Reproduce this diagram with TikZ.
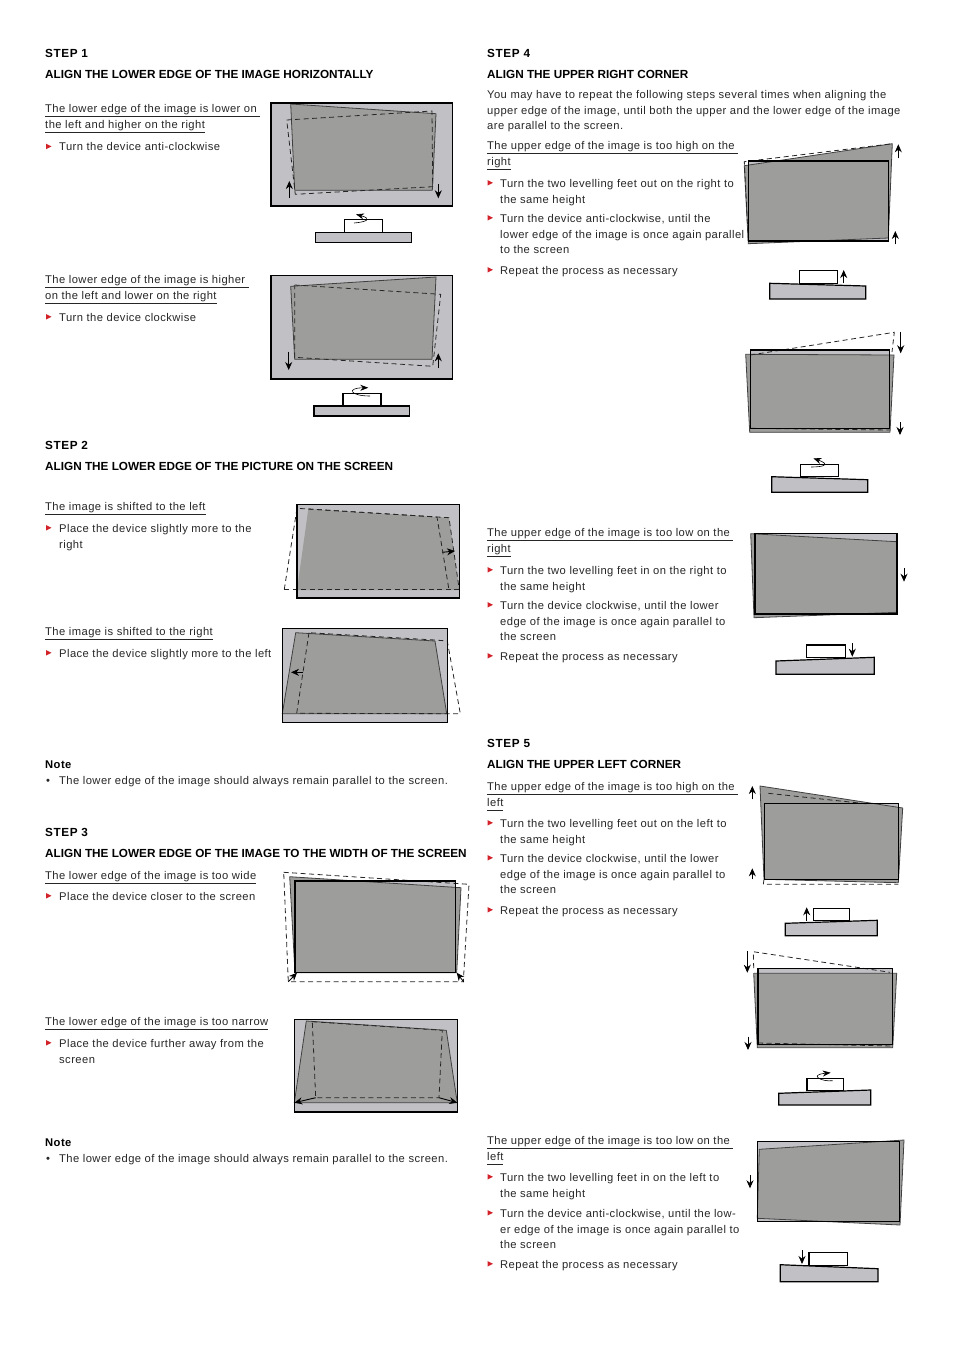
\documentclass[tikz,border=0pt]{standalone}
\usepackage{fontspec}
\setmainfont{Liberation Sans}
\usetikzlibrary{arrows.meta}
\definecolor{screengray}{HTML}{C1C1C5}
\definecolor{imagegray}{HTML}{9D9D9B}
\definecolor{tipred}{HTML}{D2232A}
\newcommand{\bodyfont}{\fontsize{11.2}{15.8}\addfontfeature{LetterSpace=3.9}\selectfont}
\newcommand{\headfont}{\fontsize{11.75}{15.8}\bfseries\selectfont}
\newcommand{\stepfont}{\fontsize{11.75}{15.8}\bfseries\addfontfeature{LetterSpace=5}\selectfont}
\newcommand{\ulnote}[1]{\underline{\smash{#1}\vphantom{g}}}
\newcommand{\tipmark}[2]{\fill[tipred] (#1,#2-7) -- (#1+5.5,#2-4.2) -- (#1,#2-1.5) -- cycle;}
\tikzset{
  bodytext/.style={anchor=north west,inner sep=0pt,align=left,font=\bodyfont,text=black!85,execute at begin node={\rule{0pt}{10pt}}},
  headtext/.style={anchor=base west,inner sep=0pt,font=\headfont},
  steptext/.style={anchor=base west,inner sep=0pt,font=\stepfont},
  screenbox/.style={fill=screengray,draw=none},
  screenedge/.style={draw=black,line width=1.4pt},
  imagequad/.style={fill=imagegray,draw=black!75,line width=0.8pt,line join=round},
  dashline/.style={draw=black!85,line width=0.8pt,dash pattern=on 5pt off 3.5pt},
  movearrow/.style={draw=black,line width=0.9pt,-{Stealth[length=8pt,width=7pt]}},
  turnarrow/.style={draw=black,line width=0.6pt,-{Stealth[length=8pt,width=6pt]}},
  basebox/.style={fill=screengray,draw=black,line width=1.2pt},
  devicebox/.style={fill=white,draw=black,line width=1.2pt}
}
\begin{document}
\begin{tikzpicture}[x=1pt,y=-1pt]
\useasboundingbox (0,0) rectangle (954,1350);

\node[steptext] (stepone) at (45,57) {STEP 1};
\node[headtext] (steponehead) at (45,78) {ALIGN THE LOWER EDGE OF THE IMAGE HORIZONTALLY};
\node[bodytext] (lowerleft) at (45,106) {\ulnote{The lower edge of the image is lower on~}\\\ulnote{the left and higher on the right}};
\tipmark{46}{150.7}
\node[bodytext] (lowerleftdo) at (59,140.7) {Turn the device anti-clockwise};
\node[bodytext] (lowerright) at (45,277) {\ulnote{The lower edge of the image is higher~}\\\ulnote{on the left and lower on the right}};
\tipmark{46}{321}
\node[bodytext] (lowerrightdo) at (59,311) {Turn the device clockwise};

\fill[screenbox] (271,103) rectangle (452.7,206);
\draw[imagequad] (290.7,104) -- (436,113.7) -- (432.3,190.3) -- (294.7,190.3) -- cycle;
\draw[dashline] (286.7,120) -- (432,111) -- (432.7,186.7) -- (295.3,194.3) -- cycle;
\draw[screenedge] (271,103) rectangle (452.7,206);
\draw[movearrow] (289.3,197.7) -- (289.3,181);
\draw[movearrow] (438.3,184.3) -- (438.3,198.3);
\draw[basebox] (315.7,232.3) rectangle (411.7,242.3);
\draw[devicebox] (344.7,219.7) rectangle (382.7,232.3);
\draw[turnarrow] (354,223) .. controls (366,222) and (373,219) .. (356,214.3);

\fill[screenbox] (271,275.7) rectangle (452.7,379);
\draw[imagequad] (290.7,286.3) -- (436,277) -- (432,359.3) -- (294.7,359.3) -- cycle;
\draw[dashline] (294.7,285) -- (440.7,294.3) -- (432.7,366.3) -- (294.7,357.3) -- cycle;
\draw[screenedge] (271,275.7) rectangle (452.7,379);
\draw[movearrow] (288.7,351.7) -- (288.7,370);
\draw[movearrow] (438.3,368.3) -- (438.3,353.3);
\draw[basebox] (314,406) rectangle (409.7,416);
\draw[devicebox] (343,393.3) rectangle (381,406);
\draw[turnarrow] (370,396) .. controls (350,396) and (346,388) .. (368.3,387.7);

\node[steptext] (steptwo) at (45,449) {STEP 2};
\node[headtext] (steptwohead) at (45,470) {ALIGN THE LOWER EDGE OF THE PICTURE ON THE SCREEN};
\node[bodytext] (shiftleft) at (45,500) {\ulnote{The image is shifted to the left}};
\tipmark{46}{532}
\node[bodytext] (shiftleftdo) at (59,524) {Place the device slightly more to the\\right};
\node[bodytext] (shiftright) at (45,625) {\ulnote{The image is shifted to the right}};
\tipmark{46}{657}
\node[bodytext] (shiftrightdo) at (59,647) {Place the device slightly more to the left};

\fill[screenbox] (297,504.3) rectangle (459.3,598);
\fill[imagegray] (308.3,509) -- (449,517.7) -- (459.3,590) -- (297,590) -- cycle;
\draw[dashline] (284.3,589.3) -- (297,508.3) -- (437,517) -- (449,590);
\draw[dashline] (284.3,589.3) -- (459.3,589.3);
\draw[dashline] (308.3,509) -- (449,517.7) -- (459.3,590);
\draw[screenedge] (297,504.3) rectangle (459.3,598);
\draw[movearrow] (442.3,552.3) -- (455,551);

\fill[screenbox] (282.3,628.7) rectangle (447.3,722.3);
\draw[imagequad] (295.7,632.7) -- (435,641) -- (446.7,713.7) -- (282.3,713.7) -- cycle;
\draw[dashline] (309,632.7) -- (296.7,713.3) -- (460.3,713.7) -- (447.3,641) -- (435,640) -- cycle;
\draw[screenedge] (282.3,628.7) rectangle (447.3,722.3);
\draw[movearrow] (303.3,672.3) -- (291,672.3);

\node[headtext] (noteone) at (45,768) {\bodyfont Note};
\node[bodytext] (noteonedot) at (46,774) {•};
\node[bodytext] (noteonetext) at (59,774) {The lower edge of the image should always remain parallel to the screen.};

\node[steptext] (stepthree) at (45,836) {STEP 3};
\node[headtext] (stepthreehead) at (45,857) {ALIGN THE LOWER EDGE OF THE IMAGE TO THE WIDTH OF THE SCREEN};
\node[bodytext] (toowide) at (45,869) {\ulnote{The lower edge of the image is too wide}};
\tipmark{46}{900}
\node[bodytext] (toowidedo) at (59,890) {Place the device closer to the screen};
\node[bodytext] (toonarrow) at (45,1015) {\ulnote{The lower edge of the image is too narrow}};
\tipmark{46}{1047}
\node[bodytext] (toonarrowdo) at (59,1039) {Place the device further away from the\\screen};

\fill[screenbox] (295,881) rectangle (455.7,972.7);
\draw[imagequad] (289.7,876.7) -- (461,887.7) -- (456.7,972.7) -- (295,972.7) -- cycle;
\draw[dashline] (283.7,872.3) -- (469,884.3) -- (463.3,981.7) -- (288.3,981.7) -- cycle;
\draw[screenedge] (295,881) rectangle (455.7,972.7);
\draw[movearrow] (288.3,981.7) -- (297,972.7);
\draw[movearrow] (463.8,982) -- (456.7,972.7);

\fill[screenbox] (294.3,1019.7) rectangle (457.3,1112);
\draw[imagequad] (306.3,1021) -- (446.3,1030.3) -- (457.3,1102.7) -- (294.3,1102.7) -- cycle;
\draw[dashline] (312.3,1021.7) -- (442.3,1030.3) -- (439,1097.7) -- (315.7,1097.7) -- cycle;
\draw[screenedge] (294.3,1019.7) rectangle (457.3,1112);
\draw[movearrow] (315.7,1097.7) -- (294.3,1102.7);
\draw[movearrow] (439,1097.7) -- (457.3,1102.7);

\node[headtext] (notetwo) at (45,1146) {\bodyfont Note};
\node[bodytext] (notetwodot) at (46,1152) {•};
\node[bodytext] (notetwotext) at (59,1152) {The lower edge of the image should always remain parallel to the screen.};

\node[steptext] (stepfour) at (487,57) {STEP 4};
\node[headtext] (stepfourhead) at (487,78) {ALIGN THE UPPER RIGHT CORNER};
\node[bodytext] (stepfourintro) at (487,90) {You may have to repeat the following steps several times when aligning the\\upper edge of the image, until both the upper and the lower edge of the image\\are parallel to the screen.};
\node[bodytext] (highright) at (487,143.7) {\ulnote{The upper edge of the image is too high on the~}\\\ulnote{right}};
\tipmark{487.5}{187}
\node[bodytext] (highrightone) at (500,179) {Turn the two levelling feet out on the right to\\the same height};
\tipmark{487.5}{222}
\node[bodytext] (highrighttwo) at (500,214) {Turn the device anti-clockwise, until the\\lower edge of the image is once again parallel\\to the screen};
\tipmark{487.5}{274}
\node[bodytext] (highrightthree) at (500,264) {Repeat the process as necessary};

\fill[screenbox] (748.3,161) rectangle (888.3,241);
\draw[imagequad] (744.3,165.7) -- (892.3,143.7) -- (888.3,238) -- (748.3,243.7) -- cycle;
\draw[dashline] (748.3,241) -- (744.3,161.7) -- (892.3,143.7);
\draw[screenedge] (748.3,161) rectangle (888.3,241);
\draw[movearrow] (898.3,158.3) -- (898.3,144.3);
\draw[movearrow] (895.3,244.3) -- (895.3,231);
\draw[basebox] (769.7,283.3) -- (865.7,286) -- (865.7,299) -- (769.7,299) -- cycle;
\draw[devicebox] (799.7,270.7) rectangle (837.7,283.7);
\draw[movearrow] (843.7,283.3) -- (843.7,270);

\fill[screenbox] (750.3,350) rectangle (889.7,428.3);
\draw[imagequad] (745.7,354.3) -- (894,355) -- (890,432.3) -- (749.7,432.3) -- cycle;
\draw[dashline] (750.3,355) -- (894.3,332.3) -- (892,352);
\draw[dashline] (750.3,428.3) -- (889.7,430);
\draw[screenedge] (750.3,350) rectangle (889.7,428.3);
\draw[movearrow] (900.7,332.3) -- (900.7,353.3);
\draw[movearrow] (900,422) -- (900,435);
\draw[basebox] (771.7,476.7) -- (867.7,479.7) -- (867.7,492.3) -- (771.7,492.3) -- cycle;
\draw[devicebox] (800.7,464.3) rectangle (838.7,476.7);
\draw[turnarrow] (811,467) .. controls (822,467) and (832,465) .. (813.3,458.3);

\node[bodytext] (lowright) at (487,530) {\ulnote{The upper edge of the image is too low on the~}\\\ulnote{right}};
\tipmark{487.5}{574}
\node[bodytext] (lowrightone) at (500,566) {Turn the two levelling feet in on the right to\\the same height};
\tipmark{487.5}{609}
\node[bodytext] (lowrighttwo) at (500,601) {Turn the device clockwise, until the lower\\edge of the image is once again parallel to\\the screen};
\tipmark{487.5}{660}
\node[bodytext] (lowrightthree) at (500,650) {Repeat the process as necessary};

\fill[screenbox] (755,533.7) rectangle (897,614);
\draw[imagequad] (750.7,533.7) -- (897,541.7) -- (897,612.3) -- (754,617.7) -- cycle;
\draw[screenedge] (755,533.7) rectangle (897,614);
\draw[movearrow] (904,568) -- (904,581.7);
\draw[basebox] (776,661) -- (874.3,657.3) -- (874.3,674.3) -- (776,674.3) -- cycle;
\draw[devicebox] (806.7,645) rectangle (845.7,657.7);
\draw[movearrow] (852.3,643.3) -- (852.3,656.7);

\node[steptext] (stepfive) at (487,747) {STEP 5};
\node[headtext] (stepfivehead) at (487,768) {ALIGN THE UPPER LEFT CORNER};
\node[bodytext] (highleft) at (487,784) {\ulnote{The upper edge of the image is too high on the~}\\\ulnote{left}};
\tipmark{487.5}{827}
\node[bodytext] (highleftone) at (500,819) {Turn the two levelling feet out on the left to\\the same height};
\tipmark{487.5}{862}
\node[bodytext] (highlefttwo) at (500,854) {Turn the device clockwise, until the lower\\edge of the image is once again parallel to\\the screen};
\tipmark{487.5}{914}
\node[bodytext] (highleftthree) at (500,904) {Repeat the process as necessary};

\fill[screenbox] (764.3,803.7) rectangle (898.3,879.3);
\draw[imagequad] (760,786) -- (902.7,808) -- (898.3,882.7) -- (764,879.3) -- cycle;
\draw[dashline] (768.3,793.3) -- (868.3,804);
\draw[dashline] (764,879.3) -- (763.3,884.3) -- (898.3,884.3);
\draw[screenedge] (764.3,803.7) rectangle (898.3,879.3);
\draw[movearrow] (752.3,799.3) -- (752.3,786);
\draw[movearrow] (752.3,879.3) -- (752.3,868.3);
\draw[basebox] (785.3,923.3) -- (877.3,920.3) -- (877.3,935.7) -- (785.3,935.7) -- cycle;
\draw[devicebox] (813.3,908.3) rectangle (849.7,920.7);
\draw[movearrow] (806.7,921.3) -- (806.7,907.3);

\fill[screenbox] (758,968.3) rectangle (892.3,1044.3);
\draw[imagequad] (753.7,973.3) -- (896.7,973.3) -- (892.7,1047.7) -- (757.3,1047.7) -- cycle;
\draw[dashline] (753.7,968) -- (753.3,951.7) -- (890,972.3);
\draw[dashline] (758,1043) -- (892.3,1046);
\draw[screenedge] (758,968.3) rectangle (892.3,1044.3);
\draw[movearrow] (747.3,951) -- (747.3,972.7);
\draw[movearrow] (748,1036.7) -- (748,1050);
\draw[basebox] (778.7,1093.3) -- (870.7,1090) -- (870.7,1105) -- (778.7,1105) -- cycle;
\draw[devicebox] (807,1078.7) rectangle (843.7,1090.7);
\draw[turnarrow] (832.7,1080.7) .. controls (822,1082) and (808,1075) .. (830.7,1072.7);

\node[bodytext] (lowleft) at (487,1138) {\ulnote{The upper edge of the image is too low on the~}\\\ulnote{left}};
\tipmark{487.5}{1181}
\node[bodytext] (lowleftone) at (500,1173) {Turn the two levelling feet in on the left to\\the same height};
\tipmark{487.5}{1217}
\node[bodytext] (lowlefttwo) at (500,1209) {Turn the device anti-clockwise, until the low-\\er edge of the image is once again parallel to\\the screen};
\tipmark{487.5}{1268}
\node[bodytext] (lowleftthree) at (500,1258) {Repeat the process as necessary};

\fill[screenbox] (757.3,1141.3) rectangle (899.3,1221.7);
\draw[imagequad] (759.3,1149.3) -- (904,1140) -- (900,1225) -- (757.3,1218.3) -- cycle;
\draw[screenedge] (757.3,1141.3) rectangle (899.3,1221.7);
\draw[movearrow] (750,1175) -- (750,1188.3);
\draw[basebox] (780.3,1264.7) -- (878,1268.7) -- (878,1281.7) -- (780.3,1281.7) -- cycle;
\draw[devicebox] (809,1252.3) rectangle (847.7,1265.3);
\draw[movearrow] (802,1250) -- (802,1264);
\end{tikzpicture}
\end{document}
